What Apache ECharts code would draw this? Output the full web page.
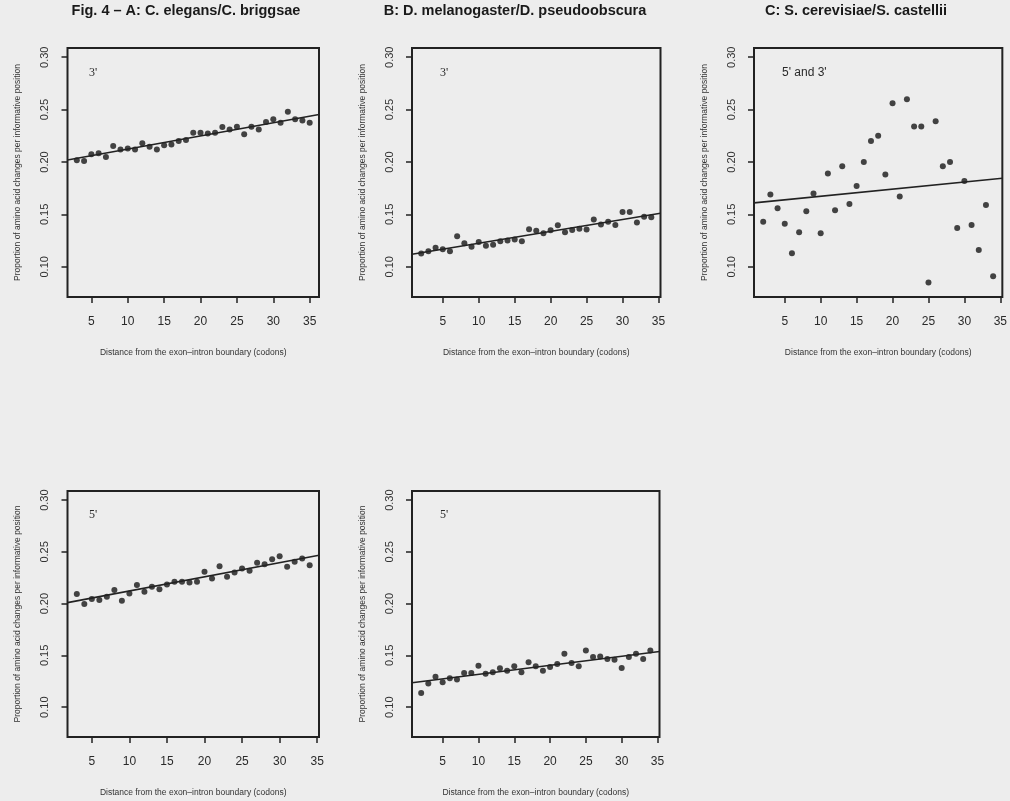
<!DOCTYPE html>
<html>
<head>
<meta charset="utf-8">
<script src="https://cdn.jsdelivr.net/npm/echarts@6/dist/echarts.min.js"></script>
<style>
  html, body { margin: 0; padding: 0; background: #ededed; }
  #chart { width: 1010px; height: 801px; }
</style>
</head>
<body>
<div id="chart"></div>
<script>
// Distance from the exon-intron boundary (codons) and the proportion of
// amino acid changes per informative position, one pair of arrays per panel.

// A: C. elegans / C. briggsae, 3' side
const codonsA = [3, 4, 5, 6, 7, 8, 9, 10, 11, 12, 13, 14, 15, 16, 17, 18, 19,
  20, 21, 22, 23, 24, 25, 26, 27, 28, 29, 30, 31, 32, 33, 34, 35];
const valuesA = [0.2016, 0.2010, 0.2073, 0.2083, 0.2048, 0.2152, 0.2120, 0.2130,
  0.2120, 0.2178, 0.2146, 0.2120, 0.2159, 0.2168, 0.2200, 0.2210, 0.2280, 0.2280,
  0.2273, 0.2280, 0.2333, 0.2311, 0.2337, 0.2264, 0.2337, 0.2311, 0.2381, 0.2407,
  0.2375, 0.2480, 0.2407, 0.2397, 0.2375];
const fitA = [0.1997, 0.001259];          // intercept, slope

// B: D. melanogaster / D. pseudoobscura, 3' side
const codonsB = [2, 3, 4, 5, 6, 7, 8, 9, 10, 11, 12, 13, 14, 15, 16, 17, 18,
  19, 20, 21, 22, 23, 24, 25, 26, 27, 28, 29, 30, 31, 32, 33, 34];
const valuesB = [0.1127, 0.1149, 0.1181, 0.1168, 0.1149, 0.1292, 0.1225, 0.1191,
  0.1238, 0.1200, 0.1210, 0.1244, 0.1251, 0.1260, 0.1244, 0.1359, 0.1343, 0.1320,
  0.1349, 0.1397, 0.1330, 0.1351, 0.1363, 0.1357, 0.1452, 0.1404, 0.1430, 0.1400,
  0.1523, 0.1523, 0.1422, 0.1477, 0.1474];
const fitB = [0.1111, 0.001134];

// C: S. cerevisiae / S. castellii, 5' and 3' pooled
const codonsC = [2, 3, 4, 5, 6, 7, 8, 9, 10, 11, 12, 13, 14, 15, 16, 17, 18,
  19, 20, 21, 22, 23, 24, 25, 26, 27, 28, 29, 30, 31, 32, 33, 34];
const valuesC = [0.143, 0.169, 0.156, 0.141, 0.113, 0.133, 0.153, 0.170, 0.132,
  0.189, 0.154, 0.196, 0.160, 0.177, 0.200, 0.220, 0.225, 0.188, 0.256, 0.167,
  0.260, 0.234, 0.234, 0.085, 0.239, 0.196, 0.200, 0.137, 0.182, 0.140, 0.116,
  0.159, 0.091];
const fitC = [0.1605, 0.00068];

// D: C. elegans / C. briggsae, 5' side
const codonsD = [3, 4, 5, 6, 7, 8, 9, 10, 11, 12, 13, 14, 15, 16, 17, 18, 19,
  20, 21, 22, 23, 24, 25, 26, 27, 28, 29, 30, 31, 32, 33, 34];
const valuesD = [0.2093, 0.1997, 0.2045, 0.2035, 0.2067, 0.2131, 0.2029, 0.2099,
  0.2179, 0.2115, 0.2163, 0.2138, 0.2186, 0.2212, 0.2212, 0.2205, 0.2212, 0.2308,
  0.2244, 0.2362, 0.2260, 0.2301, 0.2340, 0.2317, 0.2394, 0.2381, 0.2429, 0.2458,
  0.2356, 0.2404, 0.2436, 0.2372];
const fitD = [0.1986, 0.001368];

// E: D. melanogaster / D. pseudoobscura, 5' side
const codonsE = [2, 3, 4, 5, 6, 7, 8, 9, 10, 11, 12, 13, 14, 15, 16, 17, 18,
  19, 20, 21, 22, 23, 24, 25, 26, 27, 28, 29, 30, 31, 32, 33, 34];
const valuesE = [0.1138, 0.1229, 0.1293, 0.1242, 0.1280, 0.1268, 0.1331, 0.1331,
  0.1401, 0.1322, 0.1338, 0.1376, 0.1353, 0.1395, 0.1338, 0.1433, 0.1395, 0.1353,
  0.1389, 0.1417, 0.1516, 0.1427, 0.1395, 0.1548, 0.1484, 0.1490, 0.1465, 0.1459,
  0.1379, 0.1484, 0.1516, 0.1465, 0.1548];
const fitE = [0.1230, 0.000874];

// Tick labels shared by every panel
const xTickValues = [5, 10, 15, 20, 25, 30, 35];
const yTickValues = [0.10, 0.15, 0.20, 0.25, 0.30];

// Panel headings and in-plot labels
const columnTitles = ['Fig. 4 \u2013 A: C. elegans/C. briggsae',
  'B: D. melanogaster/D. pseudoobscura', 'C: S. cerevisiae/S. castellii'];
const sideLabels = ["3'", "3'", "5' and 3'", "5'", "5'"];
const xAxisTitle = 'Distance from the exon\u2013intron boundary (codons)';
const yAxisTitle = 'Proportion of amino acid changes per informative position';

// Axis extents (data range widened by 4% on each side)
const yRange = [0.0712, 0.3088];
const xRangeA = [1.72, 36.28];
const xRangeB = [0.72, 35.28];
const xRangeC = [0.72, 35.28];
const xRangeD = [1.76, 35.24];
const xRangeE = [0.72, 35.28];

const INK = '#161616';
const SANS = '"Liberation Sans", Arial, sans-serif';
const SERIF = '"Liberation Serif", "Times New Roman", serif';

const panels = [
  { codons: codonsA, values: valuesA, fit: fitA, xRange: xRangeA,
    box: { left: 67.5, top: 48, width: 251.5, height: 249 },
    label: { x: 89, y: 73, font: SERIF } },
  { codons: codonsB, values: valuesB, fit: fitB, xRange: xRangeB,
    box: { left: 412, top: 48, width: 248.5, height: 249 },
    label: { x: 440, y: 73, font: SERIF } },
  { codons: codonsC, values: valuesC, fit: fitC, xRange: xRangeC,
    box: { left: 754, top: 48, width: 250, height: 249 },
    label: { x: 782, y: 73, font: SANS } },
  { codons: codonsD, values: valuesD, fit: fitD, xRange: xRangeD,
    box: { left: 67.5, top: 491, width: 251.5, height: 246 },
    label: { x: 89, y: 515, font: SERIF } },
  { codons: codonsE, values: valuesE, fit: fitE, xRange: xRangeE,
    box: { left: 412, top: 491, width: 247.5, height: 246 },
    label: { x: 440, y: 515, font: SERIF } }
];

const grids = [], xAxes = [], yAxes = [], series = [], graphics = [];

panels.forEach((p, i) => {
  grids.push(Object.assign({
    show: true, borderColor: '#222', borderWidth: 2,
    backgroundColor: 'transparent', containLabel: false
  }, p.box));

  xAxes.push({
    type: 'value', gridIndex: i, min: p.xRange[0], max: p.xRange[1],
    splitLine: { show: false },
    axisLine: { show: false },
    axisTick: { show: true, customValues: xTickValues, length: 6,
      lineStyle: { color: '#222', width: 1.5 } },
    axisLabel: { show: true, customValues: xTickValues, margin: 19,
      color: '#2a2a2a', fontSize: 12, fontFamily: SANS },
    name: xAxisTitle, nameLocation: 'middle', nameGap: 51,
    nameTextStyle: { fontSize: 8.5, color: '#333', fontFamily: SANS }
  });

  yAxes.push({
    type: 'value', gridIndex: i, min: yRange[0], max: yRange[1],
    splitLine: { show: false },
    axisLine: { show: false },
    axisTick: { show: true, customValues: yTickValues, length: 6,
      lineStyle: { color: '#222', width: 1.5 } },
    axisLabel: { show: true, customValues: yTickValues, margin: 17, rotate: 90,
      formatter: v => v.toFixed(2),
      color: '#333', fontSize: 11, fontFamily: SANS },
    name: yAxisTitle, nameLocation: 'middle', nameRotate: 90, nameGap: 45,
    nameTextStyle: { fontSize: 8.5, color: '#333', fontFamily: SANS }
  });

  series.push({
    type: 'scatter', xAxisIndex: i, yAxisIndex: i,
    data: p.codons.map((c, k) => [c, p.values[k]]),
    symbol: 'circle', symbolSize: 6,
    itemStyle: { color: INK }, silent: true
  });

  series.push({
    type: 'line', xAxisIndex: i, yAxisIndex: i,
    data: p.xRange.map(x => [x, p.fit[0] + p.fit[1] * x]),
    symbol: 'none', lineStyle: { color: '#222', width: 1.6 }, silent: true
  });

  graphics.push({
    type: 'text', x: p.label.x, y: p.label.y,
    style: { text: sideLabels[i], fill: '#2a2a2a',
      font: '12px ' + p.label.font, align: 'left', verticalAlign: 'middle' }
  });
});

const titleCenters = [186, 515, 856];
columnTitles.forEach((t, i) => {
  graphics.push({
    type: 'text', x: titleCenters[i], y: 11,
    style: { text: t, fill: '#1a1a1a',
      font: 'bold 14.5px "Liberation Sans Narrow", "Liberation Sans", Arial, sans-serif',
      align: 'center', verticalAlign: 'middle' }
  });
});

const chart = echarts.init(document.getElementById('chart'), null, { renderer: 'canvas' });
chart.setOption({
  animation: false,
  backgroundColor: '#ededed',
  grid: grids,
  xAxis: xAxes,
  yAxis: yAxes,
  series: series,
  graphic: graphics
});
</script>
</body>
</html>
